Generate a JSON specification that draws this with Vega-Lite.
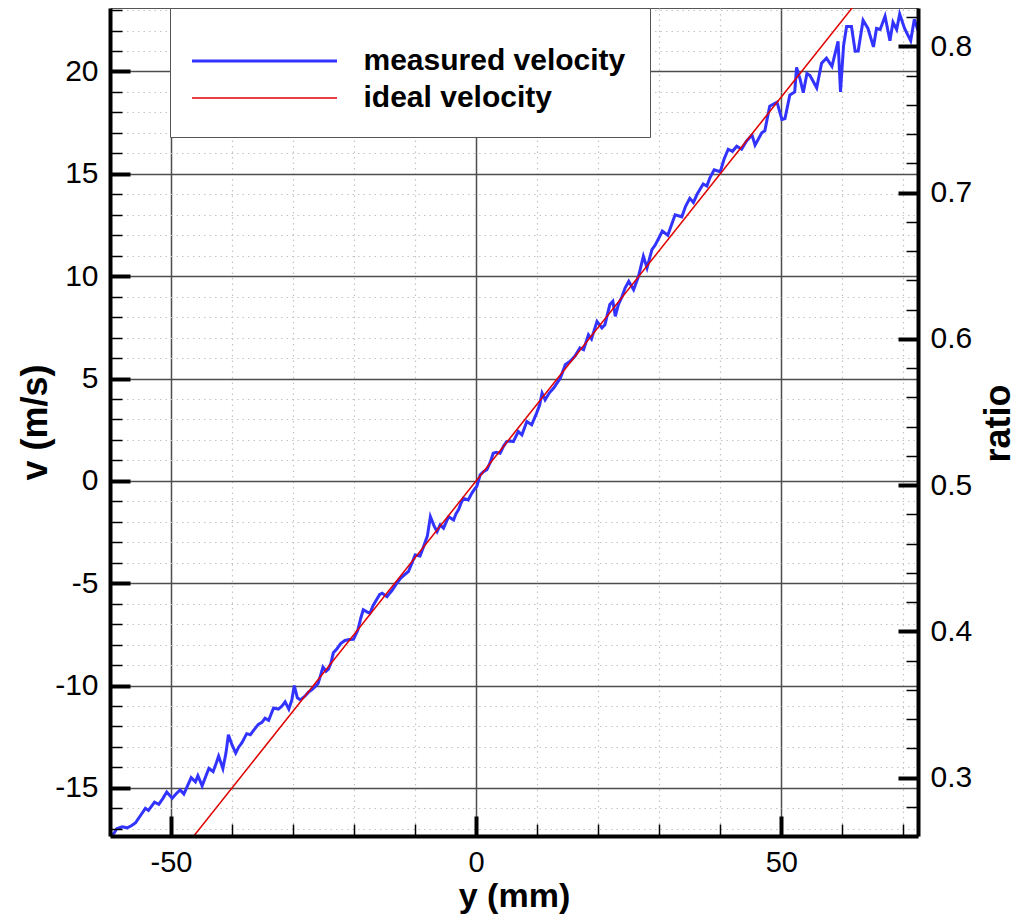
{
 "$schema": "https://vega.github.io/schema/vega-lite/v6.json",
 "width": 808,
 "height": 828,
 "autosize": {"type": "none"},
 "padding": {"left": 110, "top": 8, "right": 101, "bottom": 80},
 "background": "white",
 "config": {
  "view": {"stroke": "#555555", "strokeWidth": 1},
  "font": "Liberation Sans",
  "axis": {"labelFont": "Liberation Sans", "titleFont": "Liberation Sans", "labelColor": "black", "titleColor": "black", "labelOverlap": false, "labelFlush": false}
 },
 "datasets": {
  "measured": [
   {"y": -60.0, "v": -17.4}, {"y": -59.3, "v": -17.2}, {"y": -58.9, "v": -17.0}, {"y": -58.0, "v": -16.9},
   {"y": -57.2, "v": -16.95}, {"y": -56.5, "v": -16.85}, {"y": -55.8, "v": -16.7}, {"y": -55.0, "v": -16.35},
   {"y": -54.2, "v": -16.0}, {"y": -53.7, "v": -16.1}, {"y": -52.7, "v": -15.7}, {"y": -52.0, "v": -15.8},
   {"y": -51.3, "v": -15.5}, {"y": -50.7, "v": -15.2}, {"y": -49.8, "v": -15.5}, {"y": -49.2, "v": -15.3},
   {"y": -48.5, "v": -15.1}, {"y": -47.9, "v": -15.3}, {"y": -47.3, "v": -14.9}, {"y": -46.7, "v": -14.5},
   {"y": -46.0, "v": -14.7}, {"y": -45.6, "v": -14.4}, {"y": -44.9, "v": -14.9}, {"y": -44.4, "v": -14.5},
   {"y": -43.8, "v": -14.05}, {"y": -43.1, "v": -14.2}, {"y": -42.6, "v": -13.8}, {"y": -42.2, "v": -13.45},
   {"y": -41.5, "v": -14.05}, {"y": -41.0, "v": -13.3}, {"y": -40.6, "v": -12.4}, {"y": -40.0, "v": -12.9},
   {"y": -39.4, "v": -13.3}, {"y": -38.9, "v": -13.0}, {"y": -38.4, "v": -12.8}, {"y": -37.6, "v": -12.35},
   {"y": -37.0, "v": -12.4}, {"y": -36.5, "v": -12.2}, {"y": -35.7, "v": -11.9}, {"y": -35.1, "v": -11.8},
   {"y": -34.6, "v": -11.6}, {"y": -34.0, "v": -11.7}, {"y": -33.2, "v": -11.1}, {"y": -32.4, "v": -11.15},
   {"y": -31.8, "v": -11.0}, {"y": -31.3, "v": -10.8}, {"y": -30.7, "v": -11.15}, {"y": -30.2, "v": -10.7},
   {"y": -29.8, "v": -10.0}, {"y": -29.3, "v": -10.6}, {"y": -28.8, "v": -10.7}, {"y": -28.0, "v": -10.5},
   {"y": -27.4, "v": -10.3}, {"y": -26.9, "v": -10.2}, {"y": -26.4, "v": -10.05}, {"y": -25.9, "v": -9.9},
   {"y": -25.5, "v": -9.5}, {"y": -25.1, "v": -9.1}, {"y": -24.6, "v": -9.3}, {"y": -24.2, "v": -9.2},
   {"y": -23.8, "v": -8.9}, {"y": -23.4, "v": -8.4}, {"y": -22.8, "v": -8.2}, {"y": -22.2, "v": -7.95},
   {"y": -21.5, "v": -7.8}, {"y": -20.8, "v": -7.75}, {"y": -20.1, "v": -7.74}, {"y": -19.4, "v": -7.3},
   {"y": -18.9, "v": -6.7}, {"y": -18.5, "v": -6.3}, {"y": -17.9, "v": -6.4}, {"y": -17.4, "v": -6.47},
   {"y": -16.9, "v": -6.1}, {"y": -16.3, "v": -5.8}, {"y": -15.8, "v": -5.55}, {"y": -15.4, "v": -5.49},
   {"y": -14.6, "v": -5.66}, {"y": -14.2, "v": -5.5}, {"y": -13.8, "v": -5.36}, {"y": -13.1, "v": -5.05},
   {"y": -12.4, "v": -4.76}, {"y": -11.8, "v": -4.6}, {"y": -11.1, "v": -4.43}, {"y": -10.5, "v": -4.0},
   {"y": -10.0, "v": -3.62}, {"y": -9.2, "v": -3.67}, {"y": -8.6, "v": -3.2}, {"y": -8.0, "v": -2.7},
   {"y": -7.5, "v": -1.75}, {"y": -6.9, "v": -2.2}, {"y": -6.4, "v": -2.48}, {"y": -5.9, "v": -2.15},
   {"y": -5.35, "v": -2.31}, {"y": -4.9, "v": -2.0}, {"y": -4.5, "v": -1.75}, {"y": -3.7, "v": -1.91},
   {"y": -3.3, "v": -1.6}, {"y": -2.9, "v": -1.42}, {"y": -2.5, "v": -1.1}, {"y": -2.1, "v": -0.85},
   {"y": -1.3, "v": -0.93}, {"y": -0.7, "v": -0.6}, {"y": -0.16, "v": -0.36}, {"y": 0.1, "v": -0.28},
   {"y": 0.66, "v": 0.29}, {"y": 1.2, "v": 0.45}, {"y": 1.75, "v": 0.54}, {"y": 2.3, "v": 0.9},
   {"y": 2.8, "v": 1.35}, {"y": 3.3, "v": 1.4}, {"y": 3.93, "v": 1.35}, {"y": 4.5, "v": 1.7},
   {"y": 5.0, "v": 1.92}, {"y": 5.6, "v": 1.95}, {"y": 6.1, "v": 1.92}, {"y": 6.9, "v": 2.41},
   {"y": 7.5, "v": 2.25}, {"y": 8.3, "v": 2.9}, {"y": 9.1, "v": 2.74}, {"y": 9.9, "v": 3.31},
   {"y": 10.4, "v": 3.7}, {"y": 10.8, "v": 4.29}, {"y": 11.3, "v": 3.96}, {"y": 12.0, "v": 4.3},
   {"y": 12.7, "v": 4.53}, {"y": 13.3, "v": 4.8}, {"y": 13.8, "v": 5.02}, {"y": 14.6, "v": 5.67},
   {"y": 15.4, "v": 5.84}, {"y": 16.2, "v": 6.1}, {"y": 17.0, "v": 6.49}, {"y": 17.6, "v": 6.41},
   {"y": 18.4, "v": 7.14}, {"y": 18.9, "v": 6.93}, {"y": 19.8, "v": 7.79}, {"y": 20.6, "v": 7.47},
   {"y": 21.1, "v": 7.63}, {"y": 21.9, "v": 8.61}, {"y": 22.4, "v": 8.77}, {"y": 22.8, "v": 8.04},
   {"y": 23.3, "v": 8.61}, {"y": 23.9, "v": 9.0}, {"y": 24.4, "v": 9.42}, {"y": 25.0, "v": 9.75},
   {"y": 25.8, "v": 9.34}, {"y": 26.6, "v": 9.99}, {"y": 27.4, "v": 10.97}, {"y": 28.0, "v": 10.4},
   {"y": 28.8, "v": 11.3}, {"y": 29.3, "v": 11.5}, {"y": 30.0, "v": 11.9}, {"y": 30.5, "v": 12.2},
   {"y": 31.4, "v": 12.0}, {"y": 32.0, "v": 12.5}, {"y": 32.6, "v": 13.0}, {"y": 33.7, "v": 12.9},
   {"y": 34.3, "v": 13.4}, {"y": 35.0, "v": 13.8}, {"y": 35.6, "v": 13.6}, {"y": 36.2, "v": 14.0},
   {"y": 37.2, "v": 14.5}, {"y": 37.8, "v": 14.4}, {"y": 38.3, "v": 14.8}, {"y": 39.0, "v": 15.2},
   {"y": 40.0, "v": 15.1}, {"y": 40.6, "v": 15.7}, {"y": 41.3, "v": 16.2}, {"y": 42.0, "v": 16.1},
   {"y": 42.7, "v": 16.35}, {"y": 43.5, "v": 16.2}, {"y": 44.3, "v": 16.6}, {"y": 45.2, "v": 16.9},
   {"y": 45.7, "v": 16.4}, {"y": 46.8, "v": 17.0}, {"y": 47.3, "v": 17.1}, {"y": 48.1, "v": 18.3},
   {"y": 49.3, "v": 18.5}, {"y": 50.1, "v": 17.65}, {"y": 50.6, "v": 17.7}, {"y": 51.4, "v": 18.85},
   {"y": 52.2, "v": 19.0}, {"y": 52.5, "v": 20.2}, {"y": 53.1, "v": 19.6}, {"y": 53.6, "v": 18.96},
   {"y": 54.2, "v": 19.9}, {"y": 54.7, "v": 19.8}, {"y": 55.8, "v": 19.2}, {"y": 56.6, "v": 20.4},
   {"y": 57.4, "v": 20.65}, {"y": 58.3, "v": 20.25}, {"y": 59.3, "v": 21.47}, {"y": 59.7, "v": 19.0},
   {"y": 60.2, "v": 21.25}, {"y": 60.7, "v": 22.2}, {"y": 61.5, "v": 22.2}, {"y": 62.1, "v": 20.99},
   {"y": 62.6, "v": 21.0}, {"y": 63.4, "v": 22.5}, {"y": 64.2, "v": 22.1}, {"y": 65.1, "v": 21.2},
   {"y": 65.6, "v": 22.1}, {"y": 66.2, "v": 22.05}, {"y": 67.0, "v": 22.7}, {"y": 67.8, "v": 21.5},
   {"y": 68.3, "v": 22.4}, {"y": 68.9, "v": 22.05}, {"y": 69.4, "v": 22.8}, {"y": 70.2, "v": 22.1},
   {"y": 71.2, "v": 21.5}, {"y": 71.8, "v": 22.55}, {"y": 72.4, "v": 22.0}
  ],
  "ideal": [{"y": -60, "v": -22.5}, {"y": 72.4, "v": 27.15}]
 },
 "layer": [
  {
   "layer": [
    {
     "data": {"name": "measured"},
     "mark": {"type": "line", "strokeWidth": 3, "clip": true},
     "encoding": {
      "x": {"field": "y", "type": "quantitative", "scale": {"domain": [-60, 72.4], "nice": false, "zero": false},
       "axis": {"orient": "bottom", "values": [-60, -50, -40, -30, -20, -10, 0, 10, 20, 30, 40, 50, 60, 70], "grid": true,
        "gridColor": {"condition": {"test": "datum.value % 50 === 0", "value": "#4d4d4d"}, "value": "#c4c4c4"},
        "gridDash": {"condition": {"test": "datum.value % 50 === 0", "value": []}, "value": [1.5, 4]},
        "gridWidth": {"condition": {"test": "datum.value % 50 === 0", "value": 1.5}, "value": 1.2},
        "domain": false, "ticks": false, "labels": false, "title": null, "zindex": 0}},
      "y": {"field": "v", "type": "quantitative", "scale": {"domain": [-17.35, 23.1], "nice": false, "zero": false},
       "axis": {"orient": "left", "values": [-17, -16, -15, -14, -13, -12, -11, -10, -9, -8, -7, -6, -5, -4, -3, -2, -1, 0, 1, 2, 3, 4, 5, 6, 7, 8, 9, 10, 11, 12, 13, 14, 15, 16, 17, 18, 19, 20, 21, 22, 23], "grid": true,
        "gridColor": {"condition": {"test": "datum.value % 5 === 0", "value": "#4d4d4d"}, "value": "#c4c4c4"},
        "gridDash": {"condition": {"test": "datum.value % 5 === 0", "value": []}, "value": [1.5, 4]},
        "gridWidth": {"condition": {"test": "datum.value % 5 === 0", "value": 1.5}, "value": 1.2},
        "domain": false, "ticks": false, "labels": false, "title": null, "zindex": 0}},
      "color": {"datum": "measured velocity", "type": "nominal",
       "scale": {"domain": ["measured velocity", "ideal velocity"], "range": ["#3333ff", "#e00000"]},
       "legend": {"orient": "none", "legendX": 60, "legendY": 0, "title": " ", "titleFontSize": 8, "titlePadding": 6,
        "symbolType": "M-5,0H5", "symbolSize": 841, "symbolStrokeWidth": 3, "symbolOffset": 55.5, "labelOffset": 84,
        "rowPadding": 7, "padding": 24, "strokeColor": "#555555", "fillColor": "white",
        "labelFont": "Liberation Sans", "labelFontSize": 30, "labelFontWeight": "bold", "labelColor": "black", "labelLimit": 500,
        "encode": {"symbols": {"update": {"strokeWidth": {"signal": "datum.value === 'measured velocity' ? 3 : 1.5"}}}}}}
     }
    },
    {
     "data": {"name": "ideal"},
     "mark": {"type": "line", "strokeWidth": 1.5, "clip": true},
     "encoding": {
      "x": {"field": "y", "type": "quantitative", "scale": {"domain": [-60, 72.4], "nice": false, "zero": false},
       "axis": {"orient": "bottom", "values": [-40, -30, -20, -10, 10, 20, 30, 40, 60, 70], "grid": false,
        "domain": true, "domainColor": "black", "domainWidth": 4, "ticks": true, "tickSize": -12, "tickWidth": 1.5, "tickColor": "black",
        "labels": false, "title": null, "zindex": 1}},
      "y": {"field": "v", "type": "quantitative", "scale": {"domain": [-17.35, 23.1], "nice": false, "zero": false},
       "axis": {"orient": "left", "values": [-17, -16, -14, -13, -12, -11, -9, -8, -7, -6, -4, -3, -2, -1, 1, 2, 3, 4, 6, 7, 8, 9, 11, 12, 13, 14, 16, 17, 18, 19, 21, 22, 23], "grid": false,
        "domain": true, "domainColor": "black", "domainWidth": 4, "ticks": true, "tickSize": -12, "tickWidth": 1.5, "tickColor": "black",
        "labels": false, "title": null, "zindex": 1}},
      "color": {"datum": "ideal velocity", "type": "nominal"}
     }
    },
    {
     "data": {"name": "ideal"},
     "mark": {"type": "line", "opacity": 0, "clip": true},
     "encoding": {
      "x": {"field": "y", "type": "quantitative", "scale": {"domain": [-60, 72.4], "nice": false, "zero": false},
       "axis": {"orient": "bottom", "values": [-50, 0, 50], "grid": false, "domain": false, "ticks": true, "tickSize": -20, "tickWidth": 4, "tickColor": "black",
        "labels": true, "labelExpr": "toString(datum.value)", "labelFontSize": 29, "labelPadding": 32,
        "title": "y (mm)", "titleFontSize": 34, "titleFontWeight": "bold", "titleY": 60, "titleBaseline": "middle", "zindex": 1}},
      "y": {"field": "v", "type": "quantitative", "scale": {"domain": [-17.35, 23.1], "nice": false, "zero": false},
       "axis": {"orient": "left", "values": [-15, -10, -5, 0, 5, 10, 15, 20], "grid": false, "domain": false, "ticks": true, "tickSize": -20, "tickWidth": 4, "tickColor": "black",
        "labels": true, "labelExpr": "toString(datum.value)", "labelFontSize": 30, "labelPadding": 32,
        "title": "v (m/s)", "titleFontSize": 36, "titleFontWeight": "bold", "titleX": -75, "titleY": 414, "titleAngle": 270,
        "titleAlign": "center", "titleBaseline": "middle", "zindex": 1}}
     }
    }
   ],
   "resolve": {"axis": {"x": "independent", "y": "independent"}}
  },
  {
   "data": {"name": "ideal"},
   "mark": {"type": "line", "opacity": 0, "clip": true},
   "encoding": {
    "x": {"field": "y", "type": "quantitative", "scale": {"domain": [-60, 72.4], "nice": false, "zero": false}, "axis": null},
    "y": {"field": "v", "type": "quantitative", "scale": {"domain": [0.2601, 0.8263], "nice": false, "zero": false},
     "axis": {"orient": "right", "values": [0.28, 0.32, 0.34, 0.36, 0.38, 0.42, 0.44, 0.46, 0.48, 0.52, 0.54, 0.56, 0.58, 0.62, 0.64, 0.66, 0.68, 0.72, 0.74, 0.76, 0.78, 0.82],
      "grid": false, "domain": true, "domainColor": "black", "domainWidth": 4, "ticks": true, "tickSize": -12, "tickWidth": 1.5, "tickColor": "black",
      "labels": false, "title": null, "zindex": 1}}
   }
  },
  {
   "data": {"name": "ideal"},
   "mark": {"type": "line", "opacity": 0, "clip": true},
   "encoding": {
    "x": {"field": "y", "type": "quantitative", "scale": {"domain": [-60, 72.4], "nice": false, "zero": false}, "axis": null},
    "y": {"field": "v", "type": "quantitative", "scale": {"domain": [0.2601, 0.8263], "nice": false, "zero": false},
     "axis": {"orient": "right", "values": [0.3, 0.4, 0.5, 0.6, 0.7, 0.8], "grid": false, "domain": false, "ticks": true, "tickSize": -20, "tickWidth": 4, "tickColor": "black",
      "labels": true, "labelExpr": "toString(datum.value)", "labelFontSize": 30, "labelPadding": 32,
      "title": "ratio", "titleFontSize": 36, "titleFontWeight": "bold", "titleAngle": 270, "titleX": 80, "titleY": 415,
      "titleAlign": "center", "titleBaseline": "middle", "zindex": 1}}
   }
  }
 ],
 "resolve": {"scale": {"y": "independent"}}
}
